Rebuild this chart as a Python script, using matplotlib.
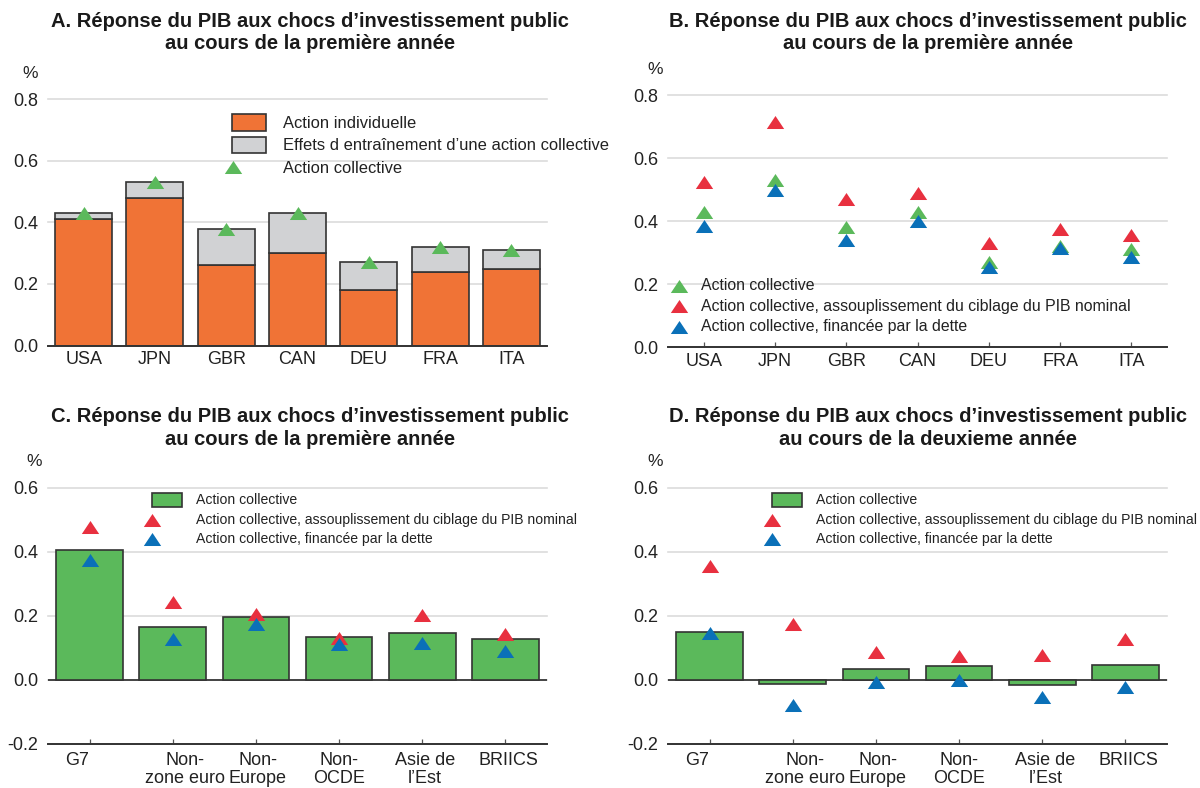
import numpy as np
import matplotlib
matplotlib.use('Agg')
import matplotlib.pyplot as plt
from matplotlib.patches import Rectangle
from matplotlib.lines import Line2D
from matplotlib.transforms import ScaledTranslation

plt.rcParams['font.family'] = ['Liberation Sans', 'DejaVu Sans']

# Panels A/B: G7 countries
pays = ['USA', 'JPN', 'GBR', 'CAN', 'DEU', 'FRA', 'ITA']
action_indiv = [0.41, 0.48, 0.26, 0.30, 0.18, 0.24, 0.25]
entrainement = [0.02, 0.05, 0.12, 0.13, 0.09, 0.08, 0.06]
action_coll = [0.43, 0.53, 0.38, 0.43, 0.27, 0.32, 0.31]
coll_nominal = [0.525, 0.715, 0.47, 0.49, 0.33, 0.375, 0.355]
coll_dette = [0.385, 0.50, 0.34, 0.40, 0.255, 0.315, 0.285]

# Panels C/D: regions
regions = ['G7', 'Non-\nzone euro', 'Non-\nEurope', 'Non-\nOCDE', 'Asie de\nl\u2019Est', 'BRIICS']
an1_coll = [0.406, 0.166, 0.197, 0.133, 0.147, 0.126]
an1_nominal = [0.476, 0.243, 0.205, 0.132, 0.202, 0.143]
an1_dette = [0.374, 0.127, 0.175, 0.111, 0.115, 0.091]
an2_coll = [0.148, -0.012, 0.033, 0.042, -0.016, 0.047]
an2_nominal = [0.354, 0.174, 0.086, 0.076, 0.078, 0.127]
an2_dette = [0.146, -0.078, -0.007, 0.0, -0.052, -0.023]

ORANGE = '#F07336'
GRIS = '#D1D2D4'
VERT = '#5BB95B'
ROUGE = '#E8303F'
BLEU = '#0A70B8'
EDGE = '#333333'

W, H = 1200, 788
fig = plt.figure(figsize=(W / 100, H / 100), dpi=100)

TRI = [(-1, -0.75), (1, -0.75), (0, 0.75)]
MS = 12.5


def axes_px(x0, x1, ytop, ybot):
    return fig.add_axes([x0 / W, 1 - ybot / H, (x1 - x0) / W, (ybot - ytop) / H])


def fpx(x, y):
    return x / W, 1 - y / H


def style(ax, ymin, ymax, ticks, labels, pad):
    ax.set_ylim(ymin, ymax)
    ax.set_xlim(-0.5, len(labels) - 0.5)
    ax.set_yticks(ticks)
    ax.set_yticklabels(['%.1f' % t for t in ticks])
    ax.set_xticks(range(len(labels)))
    ax.set_xticklabels(labels, linespacing=1.05)
    for s in ['top', 'right', 'left']:
        ax.spines[s].set_visible(False)
    ax.spines['bottom'].set_color(EDGE)
    ax.spines['bottom'].set_linewidth(1.4)
    ax.tick_params(axis='y', length=0, pad=7, labelsize=13, labelcolor='#222222')
    ax.tick_params(axis='x', direction='in', length=3.5, width=0.9, color='#555555',
                   pad=pad, labelsize=13, labelcolor='#222222')
    ax.set_axisbelow(True)
    ax.yaxis.grid(True, color='#DCDCDC', linewidth=1.2)
    for gl in ax.get_ygridlines():
        gl.set_clip_on(False)


def title(x, y, txt):
    fig.text(x / W, 1 - y / H, txt, ha='center', va='center', fontsize=14.5,
             fontweight='bold', color='#1a1a1a', linespacing=1.25)


def tri(x, y, color):
    fig.add_artist(Line2D([x / W], [1 - y / H], marker=TRI, ms=MS, color=color,
                          mew=0, linestyle='none'))


def box(x0, y0, x1, y1, color):
    fig.add_artist(Rectangle(fpx(x0, y1), (x1 - x0) / W, (y1 - y0) / H,
                             facecolor=color, edgecolor=EDGE, linewidth=1.2,
                             transform=fig.transFigure))


def label(x, y, txt, size):
    fig.text(x / W, 1 - y / H, txt, ha='left', va='center', fontsize=size, color='#222222')


x7 = np.arange(len(pays))
x6 = np.arange(len(regions))

# --- A
axA = axes_px(48, 547, 99.3, 345.5)
style(axA, 0, 0.8, [0, 0.2, 0.4, 0.6, 0.8], pays, 4)
axA.bar(x7, action_indiv, 0.8, color=ORANGE, edgecolor=EDGE, linewidth=1.2)
axA.bar(x7, entrainement, 0.8, bottom=action_indiv, color=GRIS, edgecolor=EDGE, linewidth=1.2)
axA.plot(x7, action_coll, linestyle='none', marker=TRI, ms=MS, color=VERT, mew=0, clip_on=False)
title(310, 32.5, 'A. R\u00e9ponse du PIB aux chocs d\u2019investissement public\nau cours de la premi\u00e8re ann\u00e9e')
fig.text(30 / W, 1 - 73 / H, '%', ha='center', va='center', fontsize=12.5, color='#222222')
box(231.7, 114, 266, 131, ORANGE)
box(231.7, 136.7, 266, 153, GRIS)
tri(232.6, 167.3, VERT)
label(282.7, 123.3, 'Action individuelle', 11.9)
label(282.7, 145, 'Effets d entra\u00eenement d\u2019une action collective', 11.9)
label(282.7, 168.3, 'Action collective', 11.9)

# --- B
axB = axes_px(668, 1167, 95, 347)
style(axB, 0, 0.8, [0, 0.2, 0.4, 0.6, 0.8], pays, 4)
axB.plot(x7, action_coll, linestyle='none', marker=TRI, ms=MS, color=VERT, mew=0, clip_on=False)
axB.plot(x7, coll_nominal, linestyle='none', marker=TRI, ms=MS, color=ROUGE, mew=0, clip_on=False)
axB.plot(x7, coll_dette, linestyle='none', marker=TRI, ms=MS, color=BLEU, mew=0, clip_on=False)
title(928, 32.5, 'B. R\u00e9ponse du PIB aux chocs d\u2019investissement public\nau cours de la premi\u00e8re ann\u00e9e')
fig.text(655 / W, 1 - 70 / H, '%', ha='center', va='center', fontsize=12.5, color='#222222')
tri(679, 285.7, VERT)
tri(679, 306, ROUGE)
tri(679, 326.7, BLEU)
label(700.7, 285.7, 'Action collective', 11.45)
label(700.7, 306, 'Action collective, assouplissement du ciblage du PIB nominal', 11.45)
label(700.7, 326.7, 'Action collective, financ\u00e9e par la dette', 11.45)

# --- C and D
lab_dx = [-13, 12, 2, 0, 3, 3]
panels = [
    (48, 547, 310, 'C', 'premi\u00e8re', an1_coll, an1_nominal, an1_dette, 34.5, 152.4, 196),
    (668, 1167, 928, 'D', 'deuxieme', an2_coll, an2_nominal, an2_dette, 655, 772, 816),
]
for x0, x1, tx, lettre, annee, coll, nominal, dette, pct_x, kx, tx_leg in panels:
    ax = axes_px(x0, x1, 487.5, 744)
    style(ax, -0.2, 0.6, [-0.2, 0, 0.2, 0.4, 0.6], regions, 6)
    ax.axhline(0, color='#444444', linewidth=1.4, zorder=1)
    ax.bar(x6, coll, 0.8, color=VERT, edgecolor=EDGE, linewidth=1.2, zorder=2)
    ax.plot(x6, nominal, linestyle='none', marker=TRI, ms=MS, color=ROUGE, mew=0, zorder=3)
    ax.plot(x6, dette, linestyle='none', marker=TRI, ms=MS, color=BLEU, mew=0, zorder=3)
    for lbl, dx in zip(ax.get_xticklabels(), lab_dx):
        lbl.set_transform(lbl.get_transform() + ScaledTranslation(dx / 100, 0, fig.dpi_scale_trans))
    title(tx, 428, '%s. R\u00e9ponse du PIB aux chocs d\u2019investissement public\nau cours de la %s ann\u00e9e'
          % (lettre, annee))
    fig.text(pct_x / W, 1 - 461.7 / H, '%', ha='center', va='center', fontsize=12.5, color='#222222')
    box(kx, 492.7, kx + 29.6, 507.3, VERT)
    tri(kx, 520, ROUGE)
    tri(kx, 538.7, BLEU)
    label(tx_leg, 500, 'Action collective', 10.05)
    label(tx_leg, 520, 'Action collective, assouplissement du ciblage du PIB nominal', 10.05)
    label(tx_leg, 539, 'Action collective, financ\u00e9e par la dette', 10.05)

fig.savefig('out.png', dpi=100)
